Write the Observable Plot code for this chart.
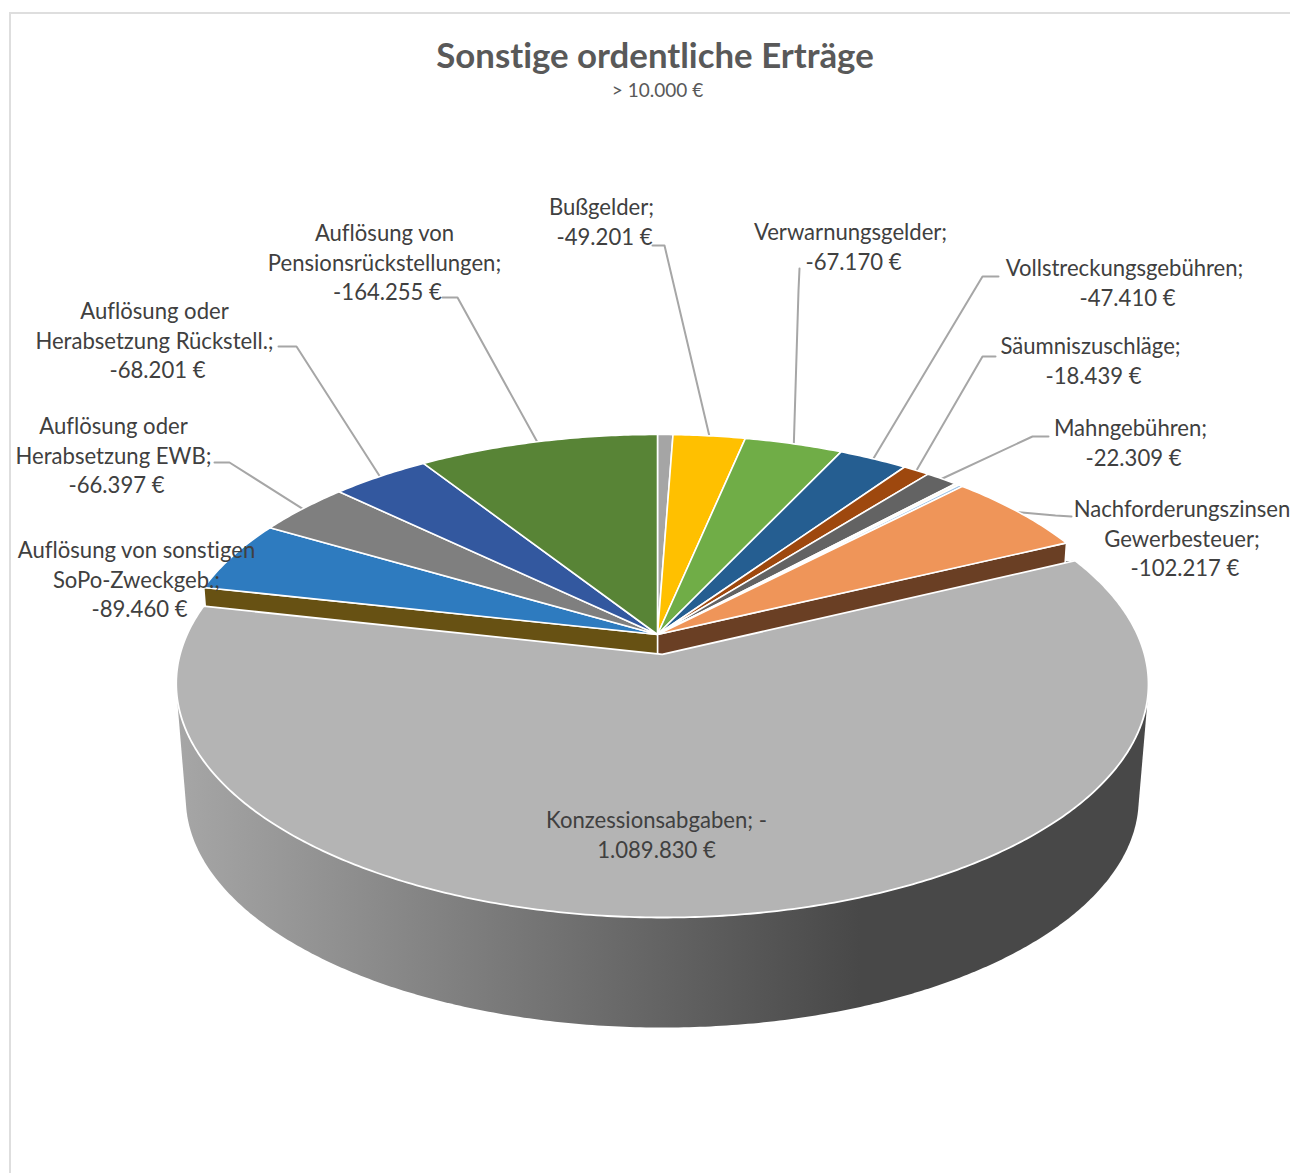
<!DOCTYPE html>
<html lang="de">
<head>
<meta charset="utf-8">
<title>Sonstige ordentliche Erträge</title>
<script src="https://cdn.jsdelivr.net/npm/d3@7"></script>
<script src="https://cdn.jsdelivr.net/npm/@observablehq/plot@0.6"></script>
<style>
  html,body{margin:0;padding:0;background:#fff;overflow:hidden}
  #frame{position:absolute;left:9px;top:12px;width:1281px;height:1161px;box-sizing:border-box;border-left:2px solid #dedede;border-top:2px solid #dedede}
  #chart{position:absolute;left:0;top:0}
  #chart svg{background:transparent;display:block;font-variant-ligatures:none}
</style>
</head>
<body>
<div id="frame"></div>
<div id="chart"></div>
<script>
// ---- data ----
const titleText = "Sonstige ordentliche Erträge";
const subtitleText = "> 10.000 €";
const names = ["", "Bußgelder", "Verwarnungsgelder", "Vollstreckungsgebühren", "Säumniszuschläge", "Mahngebühren", "", "",
  "Nachforderungszinsen\nGewerbesteuer", "Konzessionsabgaben", "Auflösung von sonstigen\nSoPo-Zweckgeb.",
  "Auflösung oder\nHerabsetzung EWB", "Auflösung oder\nHerabsetzung Rückstell.", "Auflösung von\nPensionsrückstellungen"];
const values = [-10500, -49201, -67170, -47410, -18439, -22309, -3000, -3000, -102217, -1089830, -89460, -66397, -68201, -164255];
const colors = ["#a5a5a5", "#ffc000", "#70ad47", "#255e91", "#9e480e", "#636363", "#fbf8ee", "#9dc3e6", "#ef9559", "#b4b4b4", "#2e7bbf", "#7f7f7f", "#33589f", "#588436"];
const explodedIndex = 9;

// ---- layout: where each label sits, and its leader's elbow ----
const labelCenterX = [null, 601, 850, 1124, 1090, 1130, null, null, 1181.5, 656, 136, 113, 154, 384];
const labelTopY    = [null, 207.5, 232.5, 268.5, 346.5, 428.5, null, null, 509.5, 820.5, 550.5, 426.5, 311.5, 233.5];
const leaderOuter  = [null, [[652,245],[664,245]], [[799,268],[798,290]], [[998,276],[982,276]], [[995,356],[982,356]],
  [[1048,436],[1032,436]], null, null, [[1071,516],[1055,515]], null, null, [[214,462],[229,462]], [[278,346],[296,346]], [[442,297],[457,297]]];

// ---- perspective model of the pie ----
const cx = 657, cy = 634, A = 477, B = 225, k = 0.125, explode = 0.0875;
const lowerScale = 0.98, lowerShift = 115.7;
const project = (u, v) => { const s = 1 / (1 + k * v); return [cx + A * u * s, cy - B * v * s]; };
const lower = ([x, y]) => [cx + (x - cx) * lowerScale, cy + (y - cy) * lowerScale + lowerShift];

const mags = values.map(Math.abs);
const total = d3.sum(mags);
let acc = 0;
const slices = mags.map((m, i) => {
  const a0 = acc / total * 2 * Math.PI; acc += m;
  const a1 = acc / total * 2 * Math.PI;
  const mid = (a0 + a1) / 2;
  const e = i === explodedIndex ? explode : 0;
  return {i, a0, a1, mid, ox: e * Math.sin(mid), oy: e * Math.cos(mid), fill: colors[i]};
});
const rim = (s, a) => project(s.ox + Math.sin(a), s.oy + Math.cos(a));
const apex = s => project(s.ox, s.oy);
const arc = (s, a0 = s.a0, a1 = s.a1) => {
  const n = Math.max(2, Math.ceil((a1 - a0) / 0.01));
  return d3.range(n + 1).map(j => rim(s, a0 + (a1 - a0) * j / n));
};
const poly = (key, fill, pts) => [...pts, pts[0]].map(([x, y]) => ({x, y, key, fill}));

const big = slices[explodedIndex];
const before = slices[explodedIndex - 1], after = slices[explodedIndex + 1];

// top faces of the back slices
const backTops = slices.filter(s => s.i !== explodedIndex)
  .flatMap(s => poly("t" + s.i, s.fill, [apex(s), ...arc(s)]));

// cut faces exposed by the exploded slice
const cutFaces = [
  [before, before.a1, "#6a3f24"],
  [after, after.a0, "#675113"]
].flatMap(([s, a, fill], n) => {
  const p0 = apex(s), p1 = rim(s, a);
  return poly("c" + n, fill, [p0, p1, lower(p1), lower(p0)]);
});

// outer wall of the exploded slice: the outline swept between the top and bottom
// rims, one polygon painted with a left-to-right gradient; later layers cover its top
const wallArc = arc(big);
const wall = poly("wall", "url(#wallShade)", d3.polygonHull([...wallArc, ...wallArc.map(lower)]));
const wallShade = (index, {x}) => {
  const g = d3.create("svg:linearGradient").attr("id", "wallShade").attr("gradientUnits", "userSpaceOnUse")
    .attr("x1", x(178)).attr("x2", x(860)).attr("y1", 0).attr("y2", 0);
  g.append("stop").attr("offset", 0).attr("stop-color", "#a6a6a6");
  g.append("stop").attr("offset", 1).attr("stop-color", "#484848");
  const defs = d3.create("svg:defs");
  defs.append(() => g.node());
  return defs.node();
};
const bigTop = poly("big", big.fill, [apex(big), ...arc(big)]);

// leaders: from the rim at each slice's middle to the elbow beside the label
const leaders = slices.filter(s => leaderOuter[s.i]).flatMap(s => {
  const pts = [...leaderOuter[s.i], rim(s, s.mid)];
  return pts.map(([x, y]) => ({x, y, key: s.i}));
});

// labels: name lines plus the formatted amount
const fmt = v => "-" + d3.format(",")(Math.abs(v)).replace(/,/g, ".") + " €";
const lineStep = 29.5;
const labels = slices.filter(s => labelCenterX[s.i] != null).flatMap(s => {
  const amount = fmt(values[s.i]);
  const lines = s.i === explodedIndex
    ? [names[s.i] + "; -", amount.slice(1)]
    : [...(names[s.i] + ";").split("\n"), amount];
  return lines.map((text, j) => ({
    text,
    x: labelCenterX[s.i] + (s.i !== explodedIndex && j === lines.length - 1 ? 3 : 0),
    y: labelTopY[s.i] + j * lineStep
  }));
});

const pix = (w) => ({domain: [0, w], range: [0, w], axis: null});
const fillLayer = (d, strokeWidth, stroke = "white") =>
  Plot.line(d, {x: "x", y: "y", z: "key", fill: "fill", stroke, strokeWidth, strokeLinejoin: "round", curve: "linear"});

const plot = Plot.plot({
  width: 1290, height: 1173,
  margin: 0, marginTop: 0, marginRight: 0, marginBottom: 0, marginLeft: 0,
  x: pix(1290), y: pix(1173),
  color: {type: "identity"},
  style: {background: "transparent", fontFamily: "Lato, 'Open Sans', sans-serif"},
  marks: [
    wallShade,
    Plot.line(wall, {x: "x", y: "y", fill: "url(#wallShade)", stroke: "none", curve: "linear"}),
    Plot.line(leaders, {x: "x", y: "y", z: "key", stroke: "#a6a6a6", strokeWidth: 2, curve: "linear"}),
    fillLayer(cutFaces, 1.5),
    fillLayer(backTops, 1.6),
    fillLayer(bigTop, 1.8),
    Plot.text(labels, {x: "x", y: "y", text: "text", fill: "#404040", fontSize: 22.1, textAnchor: "middle", lineAnchor: "middle"}),
    Plot.text([titleText], {x: () => 654.5, y: () => 56, text: d => d, fill: "#595959", fontSize: 34.8, fontWeight: 700, textAnchor: "middle", lineAnchor: "middle"}),
    Plot.text([subtitleText], {x: () => 657, y: () => 90.5, text: d => d, fill: "#595959", fontSize: 19, textAnchor: "middle", lineAnchor: "middle"})
  ]
});
document.getElementById("chart").appendChild(plot);
</script>
</body>
</html>
